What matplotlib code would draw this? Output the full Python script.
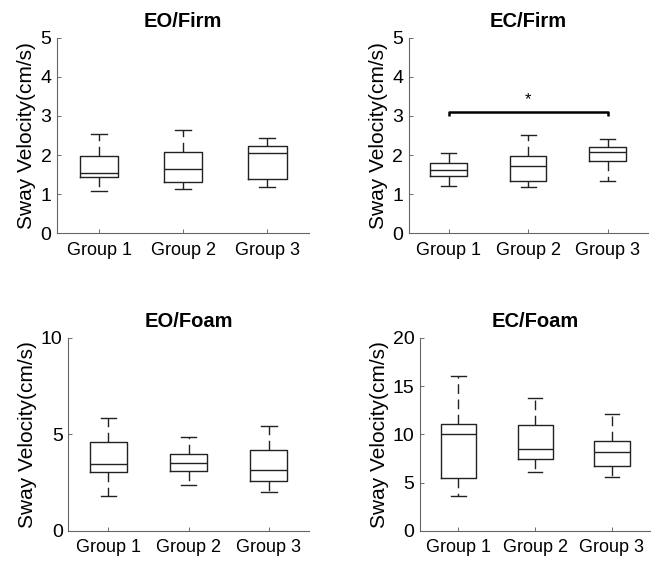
import matplotlib.pyplot as plt

plt.rcParams['font.family'] = ['Liberation Sans', 'DejaVu Sans']

groups = ['Group 1', 'Group 2', 'Group 3']
ylabel = 'Sway Velocity(cm/s)'

# five-number summaries per group: lower whisker, q1, median, q3, upper whisker
eo_firm = [[1.09, 1.44, 1.53, 1.98, 2.53],
           [1.13, 1.32, 1.64, 2.09, 2.65],
           [1.19, 1.38, 2.04, 2.23, 2.43]]
ec_firm = [[1.20, 1.46, 1.63, 1.80, 2.05],
           [1.17, 1.34, 1.73, 1.97, 2.51],
           [1.33, 1.84, 2.08, 2.21, 2.42]]
eo_foam = [[1.83, 3.04, 3.47, 4.63, 5.87],
           [2.37, 3.13, 3.52, 3.99, 4.85],
           [2.04, 2.57, 3.18, 4.20, 5.44]]
ec_foam = [[3.67, 5.48, 10.02, 11.13, 16.05],
           [6.13, 7.49, 8.46, 11.02, 13.73],
           [5.55, 6.69, 8.18, 9.29, 12.10]]

panels = [
    ('EO/Firm', eo_firm, 5, [0, 1, 2, 3, 4, 5]),
    ('EC/Firm', ec_firm, 5, [0, 1, 2, 3, 4, 5]),
    ('EO/Foam', eo_foam, 10, [0, 5, 10]),
    ('EC/Foam', ec_foam, 20, [0, 5, 10, 15, 20]),
]
# axes rectangles in figure fraction
rects = [
    [0.0852, 0.593, 0.377, 0.341],
    [0.611, 0.593, 0.357, 0.341],
    [0.102, 0.0733, 0.360, 0.337],
    [0.628, 0.0733, 0.344, 0.337],
]

# significance bracket on EC/Firm: group 1 vs group 3
sig_pair = (1, 3)
sig_y = 3.09
sig_drop = 0.08
sig_star_y = 3.42

fig = plt.figure(figsize=(6.69, 5.73), dpi=100)

for (title, data, ymax, yt), r in zip(panels, rects):
    ax = fig.add_axes(r)
    stats = []
    for lo, q1, med, q3, hi in data:
        stats.append({'whislo': lo, 'q1': q1, 'med': med, 'q3': q3,
                      'whishi': hi, 'fliers': []})
    ax.bxp(stats, positions=[1, 2, 3], widths=0.46, capwidths=0.19,
           showfliers=False,
           boxprops=dict(color='#222222', lw=1.0),
           medianprops=dict(color='#222222', lw=1.0),
           whiskerprops=dict(color='#222222', lw=1.0, linestyle=(0, (7, 4))),
           capprops=dict(color='#222222', lw=1.0))
    ax.set_xlim(0.5, 3.5)
    ax.set_ylim(0, ymax)
    ax.set_xticks([1, 2, 3])
    ax.set_xticklabels(groups, fontsize=13)
    ax.set_yticks(yt)
    ax.set_yticklabels([str(v) for v in yt], fontsize=14)
    ax.tick_params(direction='in', length=3, width=0.6, color='#555555', pad=4)
    ax.tick_params(axis='x', pad=6)
    for s in ['top', 'right']:
        ax.spines[s].set_visible(False)
    for s in ['left', 'bottom']:
        ax.spines[s].set_color('#666666')
        ax.spines[s].set_linewidth(0.8)
    ax.set_ylabel(ylabel, fontsize=15, labelpad=3)
    ax.set_title(title, fontsize=14.5, fontweight='bold', pad=8)

    if title == 'EC/Firm':
        a, b = sig_pair
        ax.plot([a, a, b, b], [sig_y - sig_drop, sig_y, sig_y, sig_y - sig_drop],
                color='black', lw=1.8, solid_capstyle='butt')
        ax.text((a + b) / 2, sig_star_y, '*', ha='center', va='center', fontsize=12)

fig.savefig('out.png', dpi=100)
